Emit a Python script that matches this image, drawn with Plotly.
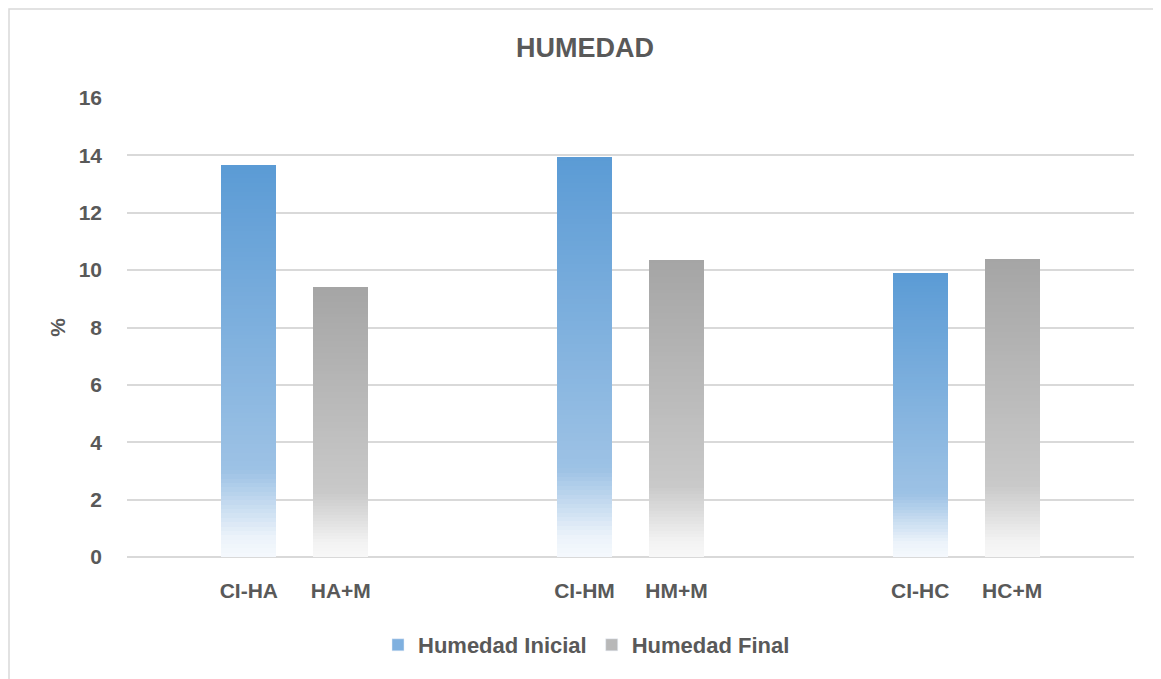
import plotly.graph_objects as go

# ---------------- data ----------------
group_index = [0, 1, 2]
labels_inicial = ["CI-HA", "CI-HM", "CI-HC"]
labels_final = ["HA+M", "HM+M", "HC+M"]
humedad_inicial = [13.65, 13.95, 9.9]
humedad_final = [9.4, 10.35, 10.4]
y_ticks = [0, 2, 4, 6, 8, 10, 12, 14, 16]

# ---------------- style ----------------
FONT = "Liberation Sans, Arial, sans-serif"
TXT = "#595959"
GRID = "#d9d9d9"
BAR_W = 0.164
HALF_SEP = 0.137
N_SLICES = 90
PAGE_OFF = 8  # default page margin of the html body

# gradient stops measured from bottom (t=0) to top (t=1)
blue_stops = [(0.0, (245, 249, 253)), (0.05, (236, 243, 250)), (0.22, (157, 194, 229)), (1.0, (91, 155, 213))]
gray_stops = [(0.0, (248, 248, 248)), (0.05, (243, 243, 243)), (0.24, (201, 201, 201)), (1.0, (165, 165, 165))]


def grad(stops, t):
    for (t0, c0), (t1, c1) in zip(stops[:-1], stops[1:]):
        if t0 <= t <= t1:
            f = (t - t0) / (t1 - t0) if t1 > t0 else 0
            c = [round(a + (b - a) * f) for a, b in zip(c0, c1)]
            return f"rgb({c[0]},{c[1]},{c[2]})"
    c = stops[-1][1]
    return f"rgb({c[0]},{c[1]},{c[2]})"


def gradient_bar(values, stops, offset, name):
    xs, ys, bases, cols = [], [], [], []
    for k in range(N_SLICES):
        t = k / N_SLICES
        for gi, v in zip(group_index, values):
            b = v * t
            xs.append(gi)
            bases.append(b)
            ys.append(v - b)
            cols.append(grad(stops, t + 0.5 / N_SLICES))
    return go.Bar(
        x=xs, y=ys, base=bases, width=BAR_W, offset=offset,
        marker=dict(color=cols, line=dict(width=0)),
        showlegend=False, hoverinfo="skip", name=name,
    )


fig = go.Figure()
fig.add_trace(gradient_bar(humedad_inicial, blue_stops, -HALF_SEP - BAR_W / 2, "Humedad Inicial"))
fig.add_trace(gradient_bar(humedad_final, gray_stops, HALF_SEP - BAR_W / 2, "Humedad Final"))

# legend-only entries
fig.add_trace(go.Bar(x=[None], y=[None], name="<b>Humedad Inicial</b>", marker_color="#7fb0df"))
fig.add_trace(go.Bar(x=[None], y=[None], name="<b>Humedad Final</b>", marker_color="#b8b8b8"))

tickvals, ticktext = [], []
for gi, a, b in zip(group_index, labels_inicial, labels_final):
    tickvals += [gi - HALF_SEP, gi + HALF_SEP]
    ticktext += [a, b]

L, T = 127 - PAGE_OFF, 98 - PAGE_OFF
R = 1161 - (1134 - PAGE_OFF)
B = 679 - (557 - PAGE_OFF)
PW, PH = 1134 - 127, 557 - 98

fig.update_layout(
    width=1161, height=679,
    barmode="overlay",
    paper_bgcolor="white", plot_bgcolor="white",
    margin=dict(l=L, r=R, t=T, b=B),
    font=dict(family=FONT, color=TXT, size=21),
    title=dict(text="<b>HUMEDAD</b>", x=(585 - PAGE_OFF) / 1161, xanchor="center",
               y=1 - (48 - PAGE_OFF) / 679, yanchor="middle",
               font=dict(family=FONT, size=27, color=TXT)),
    xaxis=dict(range=[-0.5, 2.5], tickvals=tickvals, ticktext=[f"<b>{t}</b>" for t in ticktext],
               showgrid=False, zeroline=False, showline=False, ticks="", ticklabelstandoff=19,
               tickfont=dict(family=FONT, size=21, color=TXT), fixedrange=True),
    yaxis=dict(range=[0, 16], tickvals=y_ticks, ticktext=[f"<b>{v}</b>" for v in y_ticks],
               showgrid=True, gridcolor=GRID, gridwidth=1.5, zeroline=True, zerolinecolor=GRID,
               zerolinewidth=2, showline=False, ticks="", ticklabelstandoff=24,
               tickfont=dict(family=FONT, size=21, color=TXT),
               title=dict(text="<b>%</b>", standoff=7, font=dict(family=FONT, size=21, color=TXT))),
    legend=dict(orientation="h", x=0.5 - 44 / PW, xanchor="center", y=-(645 - 557) / PH, yanchor="middle",
                font=dict(family=FONT, size=22, color=TXT), itemwidth=30, traceorder="normal"),
    bargap=0,
    shapes=[dict(type="rect", xref="paper", yref="paper",
                 x0=-(L - 1) / PW, x1=1 + 80 / PW, y0=-250 / PH, y1=1 + (T - 1) / PH,
                 line=dict(color="#d9d9d9", width=1.5), fillcolor="rgba(0,0,0,0)", layer="below")],
)

fig.write_html("out.html")
